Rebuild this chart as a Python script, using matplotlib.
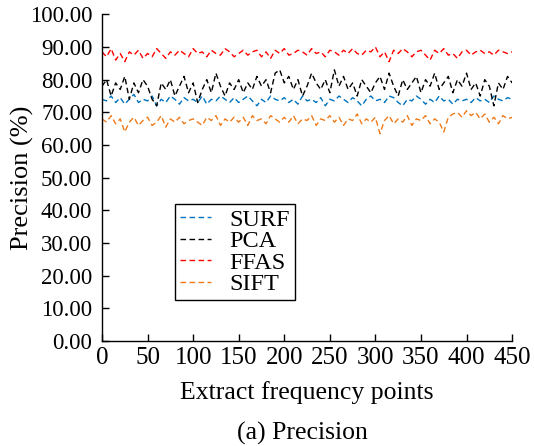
import numpy as np
import matplotlib
matplotlib.use('Agg')
import matplotlib.pyplot as plt
from matplotlib.ticker import FormatStrFormatter

plt.rcParams['font.family'] = ['Liberation Serif', 'DejaVu Serif']
plt.rcParams['mathtext.fontset'] = 'stix'

# values read roughly every 5 frequency points
surf = [74, 73.5, 75, 73, 74.5, 72.5, 74, 75.5, 73, 74,
        73.5, 75, 72, 74, 73, 75, 74, 72.5, 74.5, 73.5,
        74, 73, 75, 72.5, 74, 73.5, 75, 74, 73, 74.5,
        73, 74, 75, 73.5, 72, 74, 73, 75, 74, 73.5,
        74.5, 73, 74, 72.5, 75, 73.5, 74, 73, 74.5, 72,
        74, 73.5, 75, 74, 73, 74.5, 73.5, 72, 74, 75,
        73.5, 74, 73, 75, 74.5, 73, 72, 74, 73.5, 75,
        74, 72.5, 74, 73, 75, 73.5, 74, 72.5, 74, 73.5,
        74, 73, 74.5, 73.5, 74, 73, 75, 74, 73.5, 74.5,
        74]
pca = [78, 80, 75, 79, 77, 81, 74, 79, 76, 80,
       78, 74, 72, 79, 77, 80, 75, 78, 81, 76,
       79, 73, 77, 80, 76, 82, 78, 75, 79, 77,
       80, 76, 79, 77, 81, 78, 80, 76, 82, 83,
       79, 81, 77, 80, 75, 78, 82, 79, 77, 80,
       76, 83, 78, 81, 77, 79, 75, 80, 78, 76,
       79, 81, 77, 82, 78, 75, 80, 77, 79, 81,
       76, 80, 78, 82, 77, 79, 81, 76, 80, 78,
       82, 77, 79, 75, 80, 78, 72, 79, 77, 81,
       79]
ffas = [88.5, 87, 89.5, 86, 88, 85.5, 88.5, 87.5, 89, 86.5,
        88, 87, 89.5, 88, 86.5, 88.5, 87.5, 89, 88, 87,
        89.5, 88, 88.5, 87, 89, 88, 87.5, 89.5, 88.5, 87,
        88, 89, 87.5, 88.5, 89, 87, 88.5, 86.5, 89, 88,
        89.5, 87.5, 88, 89, 88.5, 87.5, 89.5, 88, 88.5, 87,
        89, 88.5, 87.5, 89, 88, 89.5, 88, 87.5, 89, 88.5,
        90, 87, 88.5, 85.5, 89, 88, 89.5, 88.5, 87, 88.5,
        89, 87.5, 86, 89, 88, 89.5, 87.5, 88, 86.5, 88.5,
        89, 87.5, 88.5, 89, 88, 88.5, 87.5, 89, 88.5, 88,
        88.5]
sift = [68, 67, 69, 66.5, 68, 64, 67, 68.5, 66, 67.5,
        68.5, 66, 67, 69, 65.5, 68, 67, 68.5, 66.5, 67.5,
        68, 67, 66, 68.5, 67.5, 69, 66, 68, 67, 68.5,
        67, 68.5, 66, 69, 67.5, 68, 66.5, 69, 68, 67,
        68.5, 67, 69, 66.5, 68, 67.5, 69, 66, 68, 67.5,
        69, 67, 68.5, 66, 68, 67.5, 69.5, 66.5, 68, 67,
        68.5, 63.5, 67.5, 69, 66.5, 68, 67, 69, 66, 68,
        67.5, 69, 66.5, 68, 67, 64, 68.5, 69.5, 70, 68.5,
        70.5, 69, 70, 68, 69.5, 67, 68.5, 66.5, 69, 68,
        68.5]

series = [('SURF', surf, '#0072BD'), ('PCA', pca, 'black'),
          ('FFAS', ffas, '#FF0000'), ('SIFT', sift, '#EE7A1A')]

fig = plt.figure(figsize=(5.34, 4.46), dpi=100)
ax = fig.add_axes([0.191, 0.235, 0.768, 0.733])

for name, vals, col in series:
    x = np.linspace(0, 450, len(vals))
    ax.plot(x, vals, color=col, lw=1.0, linestyle=(0, (4, 2.5)), label=name)

ax.set_xlim(0, 450)
ax.set_ylim(0, 100)
ax.set_xticks(np.arange(0, 451, 50))
ax.set_yticks(np.arange(0, 101, 10))
ax.yaxis.set_major_formatter(FormatStrFormatter('%.2f'))
ax.tick_params(direction='in', length=5, width=1)
ax.tick_params(axis='x', labelsize=18, pad=4)
ax.tick_params(axis='y', labelsize=16.5, pad=7)
for s in ['top', 'right']:
    ax.spines[s].set_visible(False)
for s in ['left', 'bottom']:
    ax.spines[s].set_linewidth(1.0)

ax.set_xlabel('Extract frequency points', fontsize=18.5, labelpad=9)
ax.set_ylabel('Precision (%)', fontsize=19, labelpad=-3)
fig.text(0.567, 1 - 433 / 446, '(a) Precision', fontsize=18.5, ha='center', va='center')

leg = ax.legend(loc='lower left', bbox_to_anchor=(0.178, 0.125), fontsize=17.5,
                fancybox=False, edgecolor='black', framealpha=1,
                handlelength=1.3, handletextpad=0.75, borderpad=0.2,
                labelspacing=-0.02, borderaxespad=0)
leg.get_frame().set_linewidth(1.0)

plt.savefig('out.png', dpi=100)
